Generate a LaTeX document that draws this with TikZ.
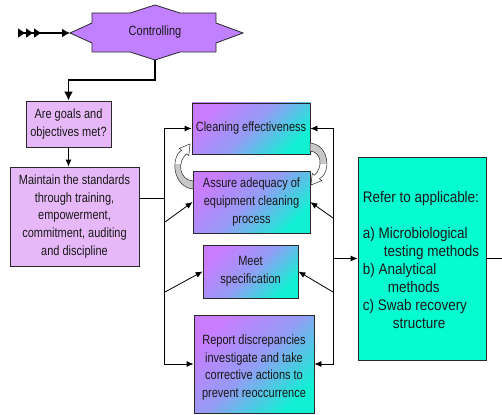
\documentclass[tikz,border=0pt]{standalone}
\usepackage{fontspec}
\newfontfamily\labfont[FakeStretch=0.82]{Liberation Sans}
\newfontfamily\referfont[FakeStretch=0.88]{Liberation Sans}
\usetikzlibrary{arrows.meta}

\definecolor{ctrlfill}{RGB}{192,128,255}
\definecolor{lavfill}{RGB}{231,184,247}
\definecolor{gradA}{RGB}{202,124,255}
\definecolor{gradB}{RGB}{148,156,245}
\definecolor{gradC}{RGB}{18,240,212}
\definecolor{aquafill}{RGB}{4,252,208}
\definecolor{curlgray}{RGB}{200,200,200}
\definecolor{inkline}{RGB}{40,40,40}

\tikzset{
  txt/.style={font=\labfont\fontsize{13.4}{17.8}\selectfont, text=black!90, align=center},
  plainbox/.style={txt, draw=inkline, line width=0.8pt, fill=lavfill, inner sep=0pt},
  gradbox/.style={txt, draw=inkline, line width=0.8pt, inner sep=0pt,
    top color=gradA, bottom color=gradC, middle color=gradB, shading angle=45},
  wire/.style={line width=0.8pt},
  conn/.style={wire, -{Latex[length=7pt,width=6pt]}},
  bothconn/.style={wire, {Latex[length=7pt,width=6pt]}-{Latex[length=7pt,width=6pt]}},
  heavy/.style={line width=1.8pt},
  curl/.style={draw=inkline, line width=0.5pt},
}

% curved block arrows between the two upper boxes
\newcommand\curlLpath{(193,189) .. controls (173,187) and (170,158) .. (181.6,150.2) -- (179.2,148.4) -- (190,144) -- (188.8,155.6) -- (186.4,153.8) .. controls (177,162) and (179,180) .. (193,181) -- cycle}
\newcommand\curlRpath{(310,143) .. controls (330,145) and (331,173) .. (319.4,178.8) -- (321.8,180.6) -- (311,185) -- (312.2,173.4) -- (314.6,175.2) .. controls (323,167) and (322,152) .. (310,151) -- cycle}

\begin{document}
\begin{tikzpicture}[x=1pt,y=-1pt]
\useasboundingbox (0,0) rectangle (502,414);

% Controlling star
\draw[draw=inkline, line width=0.8pt, fill=ctrlfill]
  (92,13) -- (130,13) -- (155,5) -- (180,13) -- (216,13) -- (216,23) -- (243,33) -- (216,43)
  -- (216,52) -- (180,52) -- (155,60) -- (130,52) -- (92,52) -- (92,43) -- (70,33) -- (92,23) -- cycle;
\node[txt] (ctrl) at (155,32.5) {Controlling};
\coordinate (ctrlW) at (70,33);
\coordinate (ctrlS) at (155,60);
\coordinate (feed) at (18,33);
\coordinate (elbow) at (155,80);

% boxes
\node[plainbox, minimum width=85pt, minimum height=46pt] (goals) at (68.5,124) {Are goals and\\objectives met?};
\node[plainbox, minimum width=129pt, minimum height=99pt] (maint) at (74.5,216.5) {Maintain the standards\\through training,\\empowerment,\\commitment, auditing\\and discipline};
\node[gradbox, minimum width=118pt, minimum height=51pt] (clean) at (251,128.5) {Cleaning effectiveness};
\node[gradbox, minimum width=117pt, minimum height=62pt] (assure) at (251.5,202) {Assure adequacy of\\equipment cleaning\\process};
\node[gradbox, minimum width=95pt, minimum height=53pt] (meet) at (250.5,271.5) {Meet\\specification};
\node[gradbox, minimum width=120pt, minimum height=98pt] (report) at (254,364) {};
\node[txt] (reporttxt) at (254,367.5) {Report discrepancies\\investigate and take\\corrective actions to\\prevent reoccurrence};
\node[draw=inkline, line width=0.8pt, fill=aquafill, minimum width=128pt, minimum height=203pt, inner sep=0pt] (refer) at (422,258.5) {};
\node[font=\referfont\fontsize{15.3}{18}\selectfont, text=black!90, align=left] (refertxt) at (421,260)
  {Refer to applicable:\\[18pt]a) Microbiological\\\hspace*{21pt}testing methods\\b) Analytical\\\hspace*{25pt}methods\\c) Swab recovery\\\hspace*{30pt}structure};

% bus junction points
\coordinate (mjoin) at (165,198);
\coordinate (lA) at (165,222);
\coordinate (lM) at (165,292);
\coordinate (rA) at (333,218);
\coordinate (rM) at (333,292);
\coordinate (rR) at (333,258.5);
\coordinate (exit) at (502,258.5);

% heavy entry flow
\draw[heavy, {Latex[reversed,length=8pt,width=10pt]Latex[reversed,length=8pt,width=10pt]Latex[reversed,length=8pt,width=10pt]}-{Latex[length=8pt,width=9pt]}] (feed) -- (ctrlW);
\draw[heavy, -{Latex[length=9pt,width=9pt]}] (ctrlS) -- (elbow) -| (goals.north);

% thin connectors
\draw[conn] (goals.south) -- (goals.south |- maint.north);
\draw[wire] (maint.east |- mjoin) -- (mjoin);
\draw[bothconn] (clean.west) -- ++(-27,0) |- (report.west);
\draw[conn] (lA) -- (assure.west);
\draw[conn] (lM) -- (meet.west);
\draw[bothconn] (clean.east) -- ++(23,0) |- (report.east);
\draw[conn] (rA) -- (assure.east);
\draw[conn] (rM) -- (meet.east);
\draw[conn] (rR) -- (refer.west);
\draw[wire] (refer.east) -- (exit);

% curved arrows
\fill[white] \curlLpath;
\begin{scope}
  \clip (150,164) rectangle (200,200);
  \fill[curlgray] \curlLpath;
\end{scope}
\draw[curl] \curlLpath;

\fill[white] \curlRpath;
\begin{scope}
  \clip (300,130) rectangle (345,163);
  \fill[curlgray] \curlRpath;
\end{scope}
\draw[curl] \curlRpath;
\end{tikzpicture}
\end{document}
